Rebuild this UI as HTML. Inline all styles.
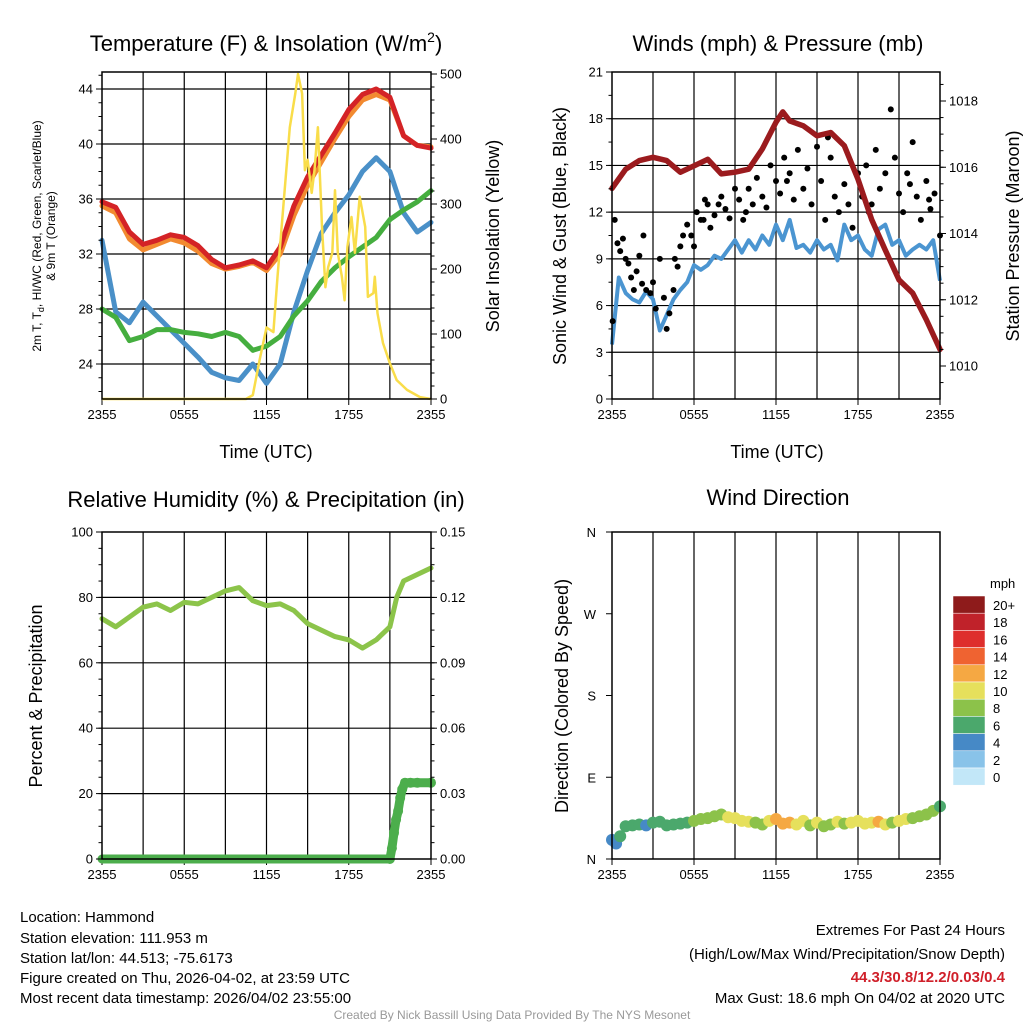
<!DOCTYPE html>
<html><head><meta charset="utf-8">
<style>
body{margin:0;background:#fff;}
svg{display:block;font-family:"Liberation Sans",sans-serif;}
</style></head>
<body>
<svg id="c" width="1024" height="1024" viewBox="0 0 1024 1024" xmlns="http://www.w3.org/2000/svg">
<g font-size="22" text-anchor="middle" fill="#000">
<text x="266" y="51">Temperature (F) &amp; Insolation (W/m<tspan dy="-9" font-size="14">2</tspan><tspan dy="9">)</tspan></text>
<text x="778" y="51">Winds (mph) &amp; Pressure (mb)</text>
<text x="266" y="507">Relative Humidity (%) &amp; Precipitation (in)</text>
<text x="778" y="505">Wind Direction</text>
</g>
<g font-size="18" text-anchor="middle">
<text x="266" y="458">Time (UTC)</text>
<text x="777" y="458">Time (UTC)</text>
<text transform="translate(499,236) rotate(-90)">Solar Insolation (Yellow)</text>
<text transform="translate(566,236) rotate(-90)">Sonic Wind &amp; Gust (Blue, Black)</text>
<text transform="translate(1019,236) rotate(-90)">Station Pressure (Maroon)</text>
<text transform="translate(42,696) rotate(-90)">Percent &amp; Precipitation</text>
<text transform="translate(568,696) rotate(-90)">Direction (Colored By Speed)</text>
</g>
<g font-size="12" text-anchor="middle">
<text transform="translate(41,236) rotate(-90)">2m T, T<tspan dy="3" font-size="9">d</tspan><tspan dy="-3">, HI/WC (Red, Green, Scarlet/Blue)</tspan></text>
<text transform="translate(55,236) rotate(-90)">&amp; 9m T (Orange)</text>
</g>
<g font-size="15" fill="#000">
<text x="20" y="922">Location: Hammond</text>
<text x="20" y="943">Station elevation: 111.953 m</text>
<text x="20" y="963">Station lat/lon: 44.513; -75.6173</text>
<text x="20" y="983">Figure created on Thu, 2026-04-02, at 23:59 UTC</text>
<text x="20" y="1003">Most recent data timestamp: 2026/04/02 23:55:00</text>
</g>
<g font-size="15" text-anchor="end">
<text x="1005" y="935">Extremes For Past 24 Hours</text>
<text x="1005" y="959">(High/Low/Max Wind/Precipitation/Snow Depth)</text>
<text x="1005" y="982" fill="#d0202a" font-weight="bold">44.3/30.8/12.2/0.03/0.4</text>
<text x="1005" y="1003">Max Gust: 18.6 mph On 04/02 at 2020 UTC</text>
</g>
<text x="512" y="1019" font-size="12" fill="#999" text-anchor="middle">Created By Nick Bassill Using Data Provided By The NYS Mesonet</text>
<g id="plots"></g>
</svg>
<script>
// ---- data ----
const hours = [0,1,2,3,4,5,6,7,8,9,10,11,12,13,14,15,16,17,18,19,20,21,22,23,24];
const xTickLabels = ["2355","0555","1155","1755","2355"];
const tempRed = [35.8,35.4,33.6,32.7,33.0,33.4,33.2,32.6,31.6,31.0,31.2,31.5,31.0,32.5,35.5,37.6,39.2,40.8,42.5,43.6,44.0,43.4,40.6,39.9,39.7];
const tempOrange = [35.5,35.0,33.1,32.3,32.7,33.1,32.8,32.2,31.3,30.9,31.1,31.4,30.8,32.0,34.8,37.0,38.7,40.4,42.0,43.2,43.6,43.2,40.6,39.9,39.8];
const dewGreen = [28.0,27.4,25.7,26.0,26.5,26.5,26.3,26.2,26.0,26.3,26.0,25.0,25.3,26.0,27.5,28.6,30.0,31.0,31.8,32.5,33.2,34.5,35.2,35.8,36.6];
const hiwcBlue = [33.0,27.8,27.0,28.5,27.5,26.5,25.5,24.5,23.4,23.0,22.8,24.0,22.6,24.0,27.8,30.8,33.5,35.0,36.3,38.0,39.0,38.0,35.0,33.6,34.3];
const solarHours = [0,10.5,11.0,11.5,12.0,12.5,12.8,13.2,13.7,14.1,14.3,14.6,14.8,15.0,15.3,15.5,15.75,16.05,16.3,16.5,16.8,17.0,17.2,17.5,17.7,17.9,18.2,18.45,18.8,19.2,19.4,19.8,19.9,20.1,20.5,21.0,21.5,22.25,23.2,24];
const solarW = [0,0,6,60,110,103,188,290,418,470,500,470,352,368,317,352,418,265,172,203,225,321,225,188,152,234,280,225,311,265,157,163,188,132,86,55,29,14,3,0];
const windHours = [0,0.5,1,1.5,2,2.5,3,3.5,4,4.5,5,5.5,6,6.5,7,7.5,8,8.5,9,9.5,10,10.5,11,11.5,12,12.5,13,13.5,14,14.5,15,15.5,16,16.5,17,17.5,18,18.5,19,19.5,20,20.5,21,21.5,22,22.5,23,23.5,24];
const windSonic = [3.5,7.8,6.8,6.4,6.2,6.9,6.4,4.4,5.4,6.4,7.0,7.5,8.6,8.3,8.6,9.2,9.0,9.6,10.2,9.4,10.2,9.6,10.5,9.9,11.2,10.2,11.5,9.7,9.9,9.4,10.2,9.6,9.9,8.9,11.2,10.2,10.5,9.6,9.2,10.9,11.2,9.9,10.2,9.2,9.6,9.9,9.6,10.2,7.6];
const pressHours = [0,1,2,3,4,5,6,7,8,9,10,11,12,12.5,13,14,15,16,17,18,19,20,21,22,23,24];
const pressure = [1015.36,1015.94,1016.2,1016.3,1016.2,1015.85,1016.04,1016.24,1015.8,1015.85,1015.94,1016.55,1017.36,1017.67,1017.4,1017.25,1016.95,1017.05,1016.65,1015.64,1014.42,1013.5,1012.6,1012.2,1011.4,1010.5];
const gustHours = [0.05,0.2,0.4,0.6,0.8,1.0,1.2,1.4,1.6,1.8,2.0,2.2,2.5,2.8,3.0,3.2,3.5,3.8,4.0,4.2,4.5,4.8,5.0,5.2,5.5,5.8,6.0,6.2,6.5,6.8,7.0,7.2,7.5,7.8,8.0,8.3,8.6,9.0,9.3,9.6,10.0,10.3,10.6,11.0,11.3,11.6,12.0,12.3,12.6,13.0,13.3,13.6,14.0,14.3,14.6,15.0,15.3,15.6,16.0,16.3,16.6,17.0,17.3,17.6,18.0,18.3,18.6,19.0,19.3,19.6,20.0,20.4,20.7,21.0,21.3,21.6,22.0,22.3,22.6,23.0,23.3,23.6,24.0,2.3,4.6,6.7,9.8,12.8,15.8,18.8,21.8,23.2];
const gustValues = [5.0,11.5,10.0,9.5,10.3,9.0,8.7,7.8,7.0,8.2,9.2,7.4,7.0,6.8,7.5,5.8,9.0,6.5,4.5,5.5,7.0,8.5,9.8,10.5,11.2,10.5,9.8,12.0,11.5,12.8,12.5,11.0,11.8,12.5,13.0,12.2,11.6,13.5,12.8,11.5,13.5,12.5,14.2,13.0,12.3,15.0,14.0,13.2,15.5,14.5,12.8,16.0,13.5,14.8,12.5,16.2,14.0,11.5,15.5,13.0,12.0,13.8,12.5,11.0,14.5,13.0,15.0,12.5,16.0,13.5,14.5,18.6,15.5,13.2,12.0,14.5,16.5,13.0,11.5,14.0,12.2,13.2,10.5,10.5,9.0,11.5,12.0,14.0,16.8,12.0,13.8,12.8];
const rhHours = [0,1,2,3,4,5,6,7,8,9,10,11,12,13,14,15,16,17,18,19,20,21,21.5,22,23,24];
const rhValues = [73.5,71,74,77,78,76,78.5,78,80,82,83,79,77.5,78,76,72,70,68,67,64.5,67,71,80,85,87,89];
const precipHours = [0,21,21.15,21.3,21.45,21.6,21.75,21.9,22.1,22.5,23,24];
const precipValues = [0,0,0.005,0.012,0.018,0.022,0.028,0.032,0.035,0.035,0.035,0.035];
const dirHours = [0,0.3,0.6,1,1.5,2,2.5,3,3.5,4,4.5,5,5.5,6,6.5,7,7.5,8,8.5,9,9.5,10,10.5,11,11.5,12,12.5,13,13.5,14,14.5,15,15.5,16,16.5,17,17.5,18,18.5,19,19.5,20,20.5,21,21.5,22,22.5,23,23.5,24];
const dirValues = [21,17,25,36,37,38,37,40,41,37,38,39,40,42,44,45,47,49,46,45,42,41,40,38,42,44,39,40,38,42,37,40,36,38,41,39,40,42,39,40,41,38,40,42,44,45,47,49,53,58];
const dirSpeed = [4,4,7,7,6,6,4,6,6,6,7,6,7,8,8,8,9,9,10,10,11,10,9,8,10,12,13,12,10,11,9,10,8,9,10,9,10,11,10,10,12,10,9,10,11,8,9,8,9,7];
const cbLabels = ["20+","18","16","14","12","10","8","6","4","2","0"];
const cbColors = ["#8e1b1b","#c0222a","#de2e2c","#ef6331","#f5a843","#e6e05c","#8cc24a","#4ba86c","#4689c6","#89c3e9","#c2e7f8"];

// ---- helpers ----
const NS="http://www.w3.org/2000/svg";
const root=document.getElementById('plots');
function el(tag,attrs,parent){const e=document.createElementNS(NS,tag);for(const k in attrs)e.setAttribute(k,attrs[k]);(parent||root).appendChild(e);return e;}
function lin(d0,d1,r0,r1){return v=>r0+(v-d0)*(r1-r0)/(d1-d0);}
function pathD(xs,ys,fx,fy){return xs.map((h,i)=>(i?'L':'M')+fx(h).toFixed(1)+','+fy(ys[i]).toFixed(1)).join('');}

function frame(g,x0,x1,y0,y1,fx,gridY){
  for(let h=3;h<24;h+=3){const l=el('line',{x1:fx(h),x2:fx(h),y1:y0,y2:y1,stroke:'#000','stroke-width':1.2},g);
    
    }
  gridY.forEach(y=>{const l=el('line',{x1:x0,x2:x1,y1:y,y2:y,stroke:'#000','stroke-width':1.2},g);
    
    });
  xTickLabels.forEach((t,i)=>{const x=fx(i*6);
    const tk=el('line',{x1:x,x2:x,y1:y1,y2:y1+6,stroke:'#000'},g);
    
    
    const tx=el('text',{x:x,y:y1+20,'font-size':13,'text-anchor':'middle'},g);tx.textContent=t;
    
    });
}
function border(g,x0,x1,y0,y1){const r=el('rect',{x:x0,y:y0,width:x1-x0,height:y1-y0,fill:'none',stroke:'#000','stroke-width':1.5},g);
  
  }
function yTicks(g,ticks,fy,x,side,fmt){ticks.forEach(v=>{const y=fy(v);
  const tk=el('line',{x1:x,x2:x+(side<0?-6:6),y1:y,y2:y,stroke:'#000'},g);
  
  
  const t=el('text',{x:x+(side<0?-9:9),y:y+4.5,'font-size':13,'text-anchor':side<0?'end':'start'},g);
  t.textContent=fmt?fmt(v):v;
  
  });}
function minor(g,x,fy,a,b,s,side){for(let v=a;v<=b+1e-9;v+=s){const y=fy(v);el('line',{x1:x,x2:x+side*3.5,y1:y,y2:y,stroke:'#000'},g);}}

// ---- Panel 1: temperature ----
{const g=el('g',{});
const X0=102,X1=431,Y0=72,Y1=399;const fx=lin(0,24,X0,X1);const fy=lin(24,44,364,89);const fs=lin(0,500,399,74);
frame(g,X0,X1,Y0,Y1,fx,[24,28,32,36,40,44].map(fy));
const series=[[hiwcBlue,'#4a90c8','hiwc-line'],[dewGreen,'#45ae3f','dewpoint-line'],[tempOrange,'#f28a30','temp-9m-line'],[tempRed,'#d42326','temp-2m-line']];
series.forEach(s=>{const p=el('path',{d:pathD(hours,s[0],fx,fy),fill:'none',stroke:s[1],'stroke-width':5,'stroke-linejoin':'round','stroke-linecap':'round'},g);
  
  });
const sp=el('path',{d:pathD(solarHours,solarW,fx,fs),fill:'none',stroke:'#f9dd4a','stroke-width':2.5,'stroke-linejoin':'round'},g);


border(g,X0,X1,Y0,Y1);
yTicks(g,[24,28,32,36,40,44],fy,X0,-1);minor(g,X0,fy,22,45,1,-1);
yTicks(g,[0,100,200,300,400,500],fs,X1,1);minor(g,X1,fs,0,500,20,1);}

// ---- Panel 2: winds ----
{const g=el('g',{});
const X0=612,X1=940,Y0=72,Y1=399;const fx=lin(0,24,X0,X1);const fy=lin(0,21,399,72);const fp=lin(1010,1018,366,101);
frame(g,X0,X1,Y0,Y1,fx,[3,6,9,12,15,18].map(fy));
const wp=el('path',{d:pathD(windHours,windSonic,fx,fy),fill:'none',stroke:'#4b95d1','stroke-width':4,'stroke-linejoin':'round'},g);


gustHours.forEach((h,i)=>{const c=el('circle',{cx:fx(h),cy:fy(gustValues[i]),r:3,fill:'#000'},g);
  
  });
const pp=el('path',{d:pathD(pressHours,pressure,fx,fp),fill:'none',stroke:'#9b1b1e','stroke-width':5.5,'stroke-linejoin':'round','stroke-linecap':'round'},g);


border(g,X0,X1,Y0,Y1);
yTicks(g,[0,3,6,9,12,15,18,21],fy,X0,-1);minor(g,X0,fy,0,21,1.5,-1);
yTicks(g,[1010,1012,1014,1016,1018],fp,X1,1);minor(g,X1,fp,1009.5,1018.5,0.5,1);}

// ---- Panel 3: RH ----
{const g=el('g',{});
const X0=102,X1=431,Y0=532,Y1=859;const fx=lin(0,24,X0,X1);const fy=lin(0,100,859,532);const fr=lin(0,0.15,859,532);
frame(g,X0,X1,Y0,Y1,fx,[20,40,60,80].map(fy));
const rp=el('path',{d:pathD(rhHours,rhValues,fx,fy),fill:'none',stroke:'#8cc44a','stroke-width':5,'stroke-linejoin':'round','stroke-linecap':'round'},g);


const pr=el('path',{d:pathD(precipHours,precipValues,fx,fr),fill:'none',stroke:'#4cae4c','stroke-width':9,'stroke-linejoin':'round','stroke-linecap':'round'},g);


precipHours.forEach((h,i)=>{if(h>=21){const c=el('circle',{cx:fx(h),cy:fr(precipValues[i]),r:5,fill:'#4cae4c'},g);
  
  }});
border(g,X0,X1,Y0,Y1);
yTicks(g,[0,20,40,60,80,100],fy,X0,-1);minor(g,X0,fy,0,100,5,-1);
yTicks(g,[0,0.03,0.06,0.09,0.12,0.15],fr,X1,1,v=>v.toFixed(2));minor(g,X1,fr,0,0.15,0.0075,1);}

// ---- Panel 4: wind direction ----
{const g=el('g',{});
const X0=612,X1=940,Y0=532,Y1=859;const fx=lin(0,24,X0,X1);const fy=lin(0,360,859,532);
frame(g,X0,X1,Y0,Y1,fx,[]);
function col(s){let i=Math.min(10,Math.floor(s/2));return cbColors[10-i];}
dirHours.forEach((h,i)=>{const c=el('circle',{cx:fx(h),cy:fy(dirValues[i]),r:6,fill:col(dirSpeed[i])},g);
  
  });
border(g,X0,X1,Y0,Y1);
["N","E","S","W","N"].forEach((t,i)=>{const y=fy(i*90);el('line',{x1:X0,x2:X0-6,y1:y,y2:y,stroke:'#000'},g);
  const tx=el('text',{x:X0-16,y:y+5,'font-size':13,'text-anchor':'end'},g);tx.textContent=t;
  
  });
const cb=el('g',{},g);
const mt=el('text',{x:990,y:588,'font-size':13},cb);mt.textContent='mph';
cbLabels.forEach((t,i)=>{const y=596+i*17.2;
  const r=el('rect',{x:953,y:y,width:32,height:17.2,fill:cbColors[i],stroke:'#fff','stroke-width':0.5},cb);
  
  
  const tx=el('text',{x:993,y:y+14,'font-size':13},cb);tx.textContent=t;
  
  });}
</script>
</body></html>
